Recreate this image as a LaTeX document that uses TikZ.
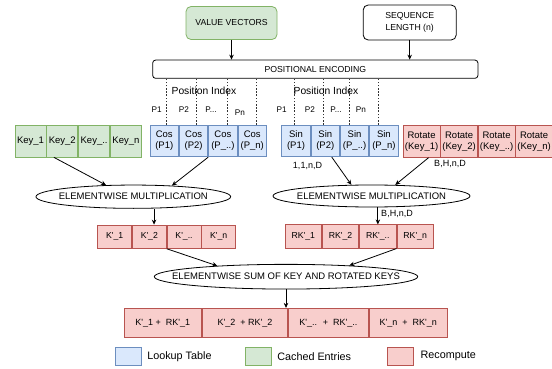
\documentclass[tikz,border=0pt]{standalone}
\usepackage{fontspec}
\setmainfont{Liberation Sans}[Ligatures=TeXOff]
\usetikzlibrary{shapes.geometric, arrows.meta, positioning}
\definecolor{lookfill}{HTML}{DAE8FC}
\definecolor{lookdraw}{HTML}{6C8EBF}
\definecolor{cachefill}{HTML}{D5E8D4}
\definecolor{cachedraw}{HTML}{82B366}
\definecolor{recfill}{HTML}{F8CECC}
\definecolor{recdraw}{HTML}{B85450}
\newcommand{\setfs}[2]{\fontsize{#1}{#2}\selectfont}

\begin{document}
\begin{tikzpicture}[
    x=1pt, y=-1pt,
    cell/.style={rectangle, draw, line width=0.8pt, minimum height=31.5pt, inner sep=1pt, align=center, font=\setfs{9.5}{11}},
    keycell/.style={cell, fill=cachefill, draw=cachedraw, minimum width=31pt},
    lookcell/.style={cell, fill=lookfill, draw=lookdraw, minimum width=28.5pt},
    rotcell/.style={cell, fill=recfill, draw=recdraw, minimum width=36.7pt},
    kcell/.style={cell, fill=recfill, draw=recdraw, minimum height=23.3pt, minimum width=33.9pt, font=\setfs{8.7}{10}},
    rkcell/.style={kcell, minimum width=36.5pt},
    sumcell/.style={cell, fill=recfill, draw=recdraw, minimum height=29pt, font=\setfs{9}{10}},
    topbox/.style={rectangle, rounded corners=5pt, draw, line width=0.8pt, align=center, font=\setfs{8.7}{12.3}},
    op/.style={ellipse, draw, line width=0.8pt, inner sep=0pt, fill=white, font=\setfs{9.5}{11}},
    arrow/.style={-{Stealth[length=5pt, width=4.5pt]}, line width=0.8pt},
    idxline/.style={line width=0.6pt, black!80, dash pattern=on 1.6pt off 1.6pt},
    plabel/.style={font=\setfs{8.2}{10}, inner sep=0pt},
    dimlabel/.style={font=\setfs{9}{10}, inner sep=0pt},
    legbox/.style={rectangle, line width=0.8pt, minimum width=26pt, minimum height=18pt},
    legtext/.style={font=\setfs{10.8}{12}, inner sep=0pt}
]
\useasboundingbox (0,0) rectangle (552,369);

% Inputs
\node[topbox, fill=cachefill, draw=cachedraw, minimum width=91pt, minimum height=33pt] (value) at (231.5,23) {VALUE VECTORS};
\node[topbox, minimum width=93pt, minimum height=35pt] (seqlen) at (409.7,22.5) {SEQUENCE\\LENGTH (n)};
\node[topbox, rounded corners=3pt, minimum width=325.3pt, minimum height=18.3pt] (posenc) at (315.3,69.2) {POSITIONAL ENCODING};

\draw[arrow] (value) -- (value |- posenc.north);
\draw[arrow] (seqlen) -- (seqlen |- posenc.north);

% Row 1: keys, lookup tables, rotated keys
\node[keycell] (key1) at (30.5,141.2) {Key\_1};
\node[keycell, right=0pt of key1] (key2) {Key\_2};
\node[keycell, right=0pt of key2] (key3) {Key\_..};
\node[keycell, right=0pt of key3] (key4) {Key\_n};

\node[lookcell] (cos1) at (164.3,141) {Cos\\(P1)};
\node[lookcell, right=0pt of cos1] (cos2) {Cos\\(P2)};
\node[lookcell, right=0pt of cos2] (cos3) {Cos\\(P\_..)};
\node[lookcell, right=0pt of cos3] (cos4) {Cos\\(P\_n)};

\node[lookcell] (sin1) at (296,141) {Sin\\(P1)};
\node[lookcell, right=0pt of sin1] (sin2) {Sin\\(P2)};
\node[lookcell, right=0pt of sin2] (sin3) {Sin\\(P\_..)};
\node[lookcell, right=0pt of sin3] (sin4) {Sin\\(P\_n)};

\node[rotcell] (rot1) at (421.6,141.5) {Rotate\\(Key\_1)};
\node[rotcell, right=0pt of rot1] (rot2) {Rotate\\(Key\_2)};
\node[rotcell, right=0pt of rot2] (rot3) {Rotate\\(Key\_..)};
\node[rotcell, right=0pt of rot3] (rot4) {Rotate\\(Key\_n)};

% Position index lines
\draw[idxline] ([xshift=2pt]cos1.north) -- ([xshift=2pt]cos1.north |- posenc.south);
\draw[idxline] ([xshift=3pt]cos2.north) -- ([xshift=3pt]cos2.north |- posenc.south);
\draw[idxline] ([xshift=4pt]cos3.north) -- ([xshift=4pt]cos3.north |- posenc.south);
\draw[idxline] ([xshift=4pt]cos4.north) -- ([xshift=4pt]cos4.north |- posenc.south);
\draw[idxline] ([xshift=-2pt]sin1.north) -- ([xshift=-2pt]sin1.north |- posenc.south);
\draw[idxline] ([xshift=-2pt]sin2.north) -- ([xshift=-2pt]sin2.north |- posenc.south);
\draw[idxline] ([xshift=-5.5pt]sin3.north) -- ([xshift=-5.5pt]sin3.north |- posenc.south);
\draw[idxline] ([xshift=-6pt]sin4.north) -- ([xshift=-6pt]sin4.north |- posenc.south);

\node[font=\setfs{10.3}{12}, inner sep=1pt] (idxcos) at (204,90.7) {Position Index};
\node[font=\setfs{10.3}{12}, inner sep=1pt] (idxsin) at (326,90.7) {Position Index};

\node[plabel] (pc1) at (156.7,110) {P1};
\node[plabel] (pc2) at (184,110) {P2};
\node[plabel] (pc3) at (211,110) {P...};
\node[plabel] (pc4) at (240,113) {Pn};
\node[plabel] (ps1) at (281.7,110) {P1};
\node[plabel] (ps2) at (310,110) {P2};
\node[plabel] (ps3) at (336,110) {P...};
\node[plabel] (ps4) at (361,110) {Pn};

\node[dimlabel] (dimsin) at (307.5,166) {1,1,n,D};
\node[dimlabel] (dimrot) at (450,164) {B,H,n,D};

% Row 2: elementwise multiplication
\node[op, minimum width=194.7pt, minimum height=23.3pt] (mult1) at (133.3,196.7) {\makebox[0pt]{ELEMENTWISE MULTIPLICATION}};
\node[op, minimum width=197pt, minimum height=22pt] (mult2) at (371.5,196) {\makebox[0pt]{ELEMENTWISE MULTIPLICATION}};

\draw[arrow] ([xshift=-8.4pt]key2.south) -- (mult1.157);
\draw[arrow] (cos2.south east) -- (mult1.16);
\draw[arrow] ([xshift=6.5pt]sin2.south) -- (mult2.151);
\draw[arrow] ([xshift=7pt]rot1.south) -- (mult2.25);

% Row 3: products
\node[kcell] (k1) at (114.65,236.7) {K'\_1};
\node[kcell, right=0pt of k1] (k2) {K'\_2};
\node[kcell, right=0pt of k2] (k3) {K'\_..};
\node[kcell, right=0pt of k3] (k4) {K'\_n};

\node[rkcell] (rk1) at (303.25,236.5) {RK'\_1};
\node[rkcell, right=0pt of rk1] (rk2) {RK'\_2};
\node[rkcell, right=0pt of rk2] (rk3) {RK'\_..};
\node[rkcell, right=0pt of rk3] (rk4) {RK'\_n};

\draw[arrow] ([xshift=4.7pt]k2.north |- mult1.south) -- ([xshift=4.7pt]k2.north);
\draw[arrow] (rk3.north |- mult2.south) -- (rk3.north);
\node[dimlabel] (dimmult) at (397,214) {B,H,n,D};

% Row 4: sum
\node[op, minimum width=263.4pt, minimum height=24.7pt] (sumop) at (286,276.7) {\makebox[0pt]{ELEMENTWISE SUM OF KEY AND ROTATED KEYS}};

\draw[arrow] (k2.south east) -- (sumop.171.5);
\draw[arrow] (rk3.south east) -- (sumop.10.6);

\node[sumcell, minimum width=77.7pt] (s1) at (162.85,322.8) {K'\_1 + ~RK'\_1};
\node[sumcell, minimum width=85pt, right=0pt of s1] (s2) {K'\_2 ~+ RK'\_2};
\node[sumcell, minimum width=80pt, right=0pt of s2] (s3) {K'\_.. ~+ ~RK'\_..};
\node[sumcell, minimum width=78.3pt, right=0pt of s3] (s4) {K'\_n ~+ ~RK'\_n};

\draw[arrow] (sumop.south) -- (sumop.south |- s2.north);

% Legend
\node[legbox, fill=lookfill, draw=lookdraw] (leglook) at (128,356.7) {};
\node[legtext, right=5.7pt of leglook] (txtlook) {Lookup Table};
\node[legbox, fill=cachefill, draw=cachedraw] (legcache) at (258.7,356.7) {};
\node[legtext, right=5pt of legcache] (txtcache) {Cached Entries};
\node[legbox, fill=recfill, draw=recdraw] (legrec) at (400.3,356.7) {};
\node[legtext, right=6.7pt of legrec, yshift=0.7pt] (txtrec) {Recompute};

\end{tikzpicture}
\end{document}
